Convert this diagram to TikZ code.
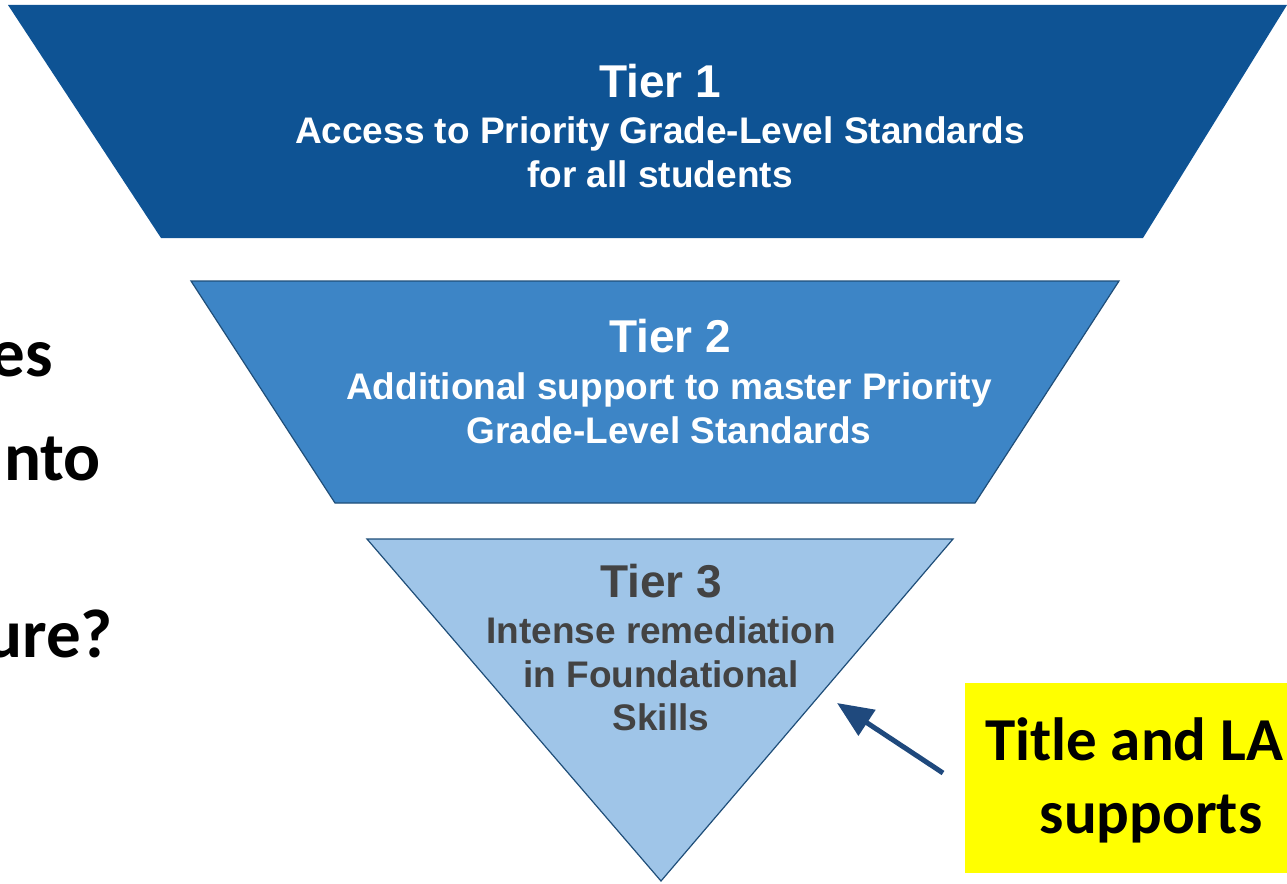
\documentclass[tikz,border=0pt]{standalone}
\usepackage{fontspec}
\setmainfont{Liberation Sans}
\newfontfamily\calfont{Carlito}
\usetikzlibrary{arrows.meta}
\definecolor{tierone}{HTML}{0E5394}
\definecolor{tiertwo}{HTML}{3D85C6}
\definecolor{tierthree}{HTML}{9FC5E8}
\definecolor{edgeblue}{HTML}{1F4E79}
\definecolor{arrowblue}{HTML}{1F497D}
\definecolor{darkgraytext}{HTML}{434343}
\definecolor{hiyellow}{HTML}{FFFF00}
\tikzset{
  titletext/.style={anchor=base, inner sep=0pt, font=\bfseries\fontsize{46}{50}\selectfont},
  bodytext/.style={anchor=base, inner sep=0pt, font=\bfseries\fontsize{37}{44}\selectfont},
  sidetext/.style={anchor=base east, inner sep=0pt, font=\calfont\bfseries\fontsize{69}{75}\selectfont},
  notetext/.style={anchor=base, inner sep=0pt, font=\calfont\bfseries\fontsize{61}{73}\selectfont},
}
\begin{document}
\begin{tikzpicture}[x=1pt,y=-1pt]
\useasboundingbox (0,0) rectangle (1287,883);
% tiers
\fill[tierone] (8,5) -- (1287,5) -- (1143,238) -- (161,238) -- cycle;
\filldraw[fill=tiertwo, draw=edgeblue, line width=1.2pt] (191,281) -- (1119,281) -- (975,503) -- (335,503) -- cycle;
\filldraw[fill=tierthree, draw=edgeblue, line width=1.2pt] (367,539) -- (953,539) -- (661,881) -- cycle;
% tier texts
\node[titletext, text=white] (t1title) at (660,97) {Tier 1};
\node[bodytext, text=white] (t1line1) at (660,143) {Access to Priority Grade-Level Standards};
\node[bodytext, text=white] (t1line2) at (660,187) {for all students};
\node[titletext, text=white] (t2title) at (670,352) {Tier 2};
\node[bodytext, text=white] (t2line1) at (669,399) {Additional support to master Priority};
\node[bodytext, text=white] (t2line2) at (669,443) {Grade-Level Standards};
\node[titletext, text=darkgraytext] (t3title) at (661,597) {Tier 3};
\node[bodytext, text=darkgraytext] (t3line1) at (661,643) {Intense remediation};
\node[bodytext, text=darkgraytext] (t3line2) at (661,687) {in Foundational};
\node[bodytext, text=darkgraytext] (t3line3) at (661,730) {Skills};
% side text fragments
\node[sidetext] (s1) at (53,376) {es};
\node[sidetext] (s2) at (101,480) {nto};
\node[sidetext] (s3) at (113,657) {ure?};
% yellow note
\fill[hiyellow] (965,683) rectangle (1287,873);
\node[notetext] (n1) at (1134,760) {Title and LA};
\node[notetext] (n2) at (1151,833) {supports};
% arrow
\coordinate (atail) at (943,773);
\coordinate (ahead) at (837,703);
\draw[arrowblue, line width=5pt, -{Triangle[length=36pt,width=30pt]}] (atail) -- (ahead);
\end{tikzpicture}
\end{document}
